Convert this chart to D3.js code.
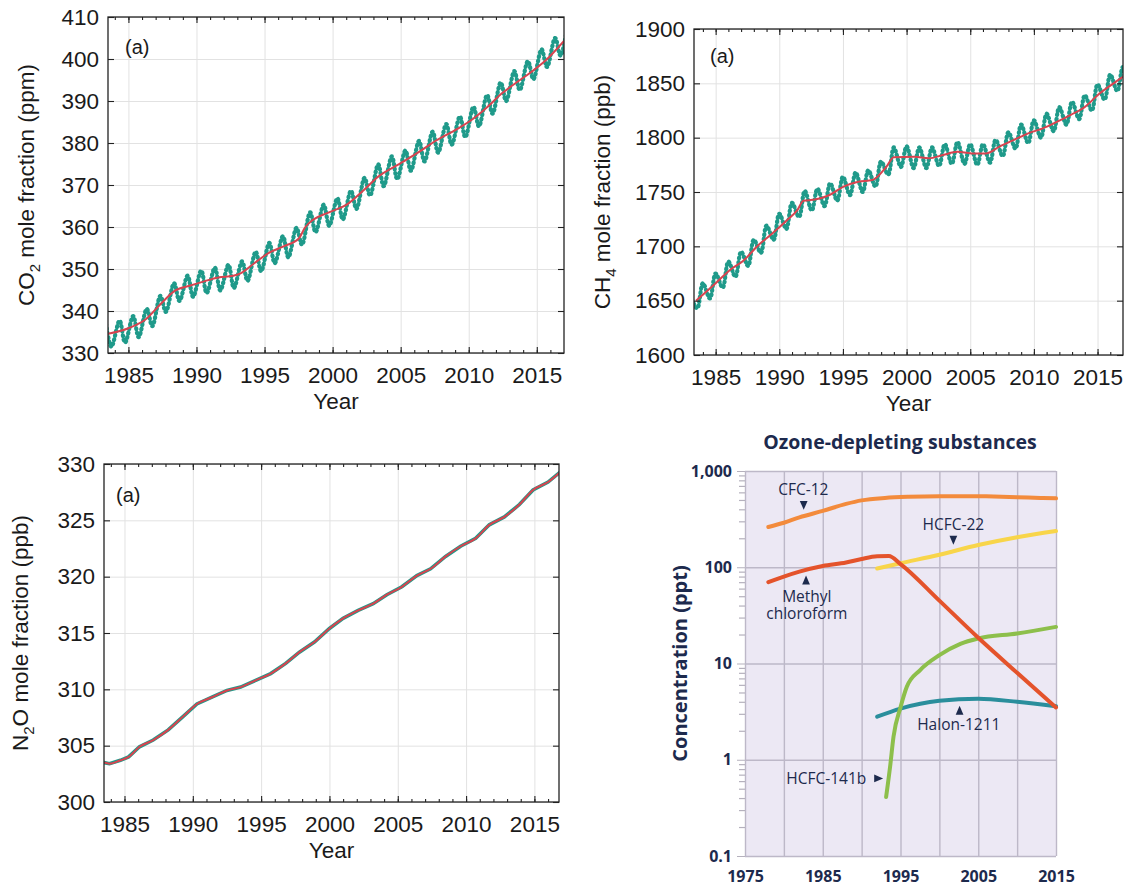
<!DOCTYPE html>
<html>
<head>
<meta charset="utf-8">
<script src="https://cdn.jsdelivr.net/npm/d3@7"></script>
<style>
  body { margin: 0; background: #fff; }
  svg { display: block; }
  .lbl { font-family: "Liberation Sans", Arial, sans-serif; fill: #1a1a1a; }
  .ods { font-family: "Open Sans", sans-serif; fill: #1d2a4d; }
</style>
</head>
<body>
<svg id="chart" width="1132" height="888"></svg>
<script>

// ---- CO2 (ppm) ----
var co2TrendYear  = [1983.5,1985.0,1986.3,1987.35,1988.4,1989.5,1990.5,1991.6,1992.7,1993.2,1994.3,1995.35,1996.4,1997.5,1998.0,1998.55,1999.6,2001.2,2002.3,2003.35,2004.95,2006.55,2007.6,2009.2,2010.3,2011.35,2012.4,2013.5,2014.55,2015.6,2017.0]
var co2TrendValue = [334.6,335.9,338.1,341.6,344.8,346.0,347.0,348.0,348.4,348.9,351.5,353.9,355.4,357.2,360.0,361.7,363.3,365.7,368.8,372.0,375.1,378.3,380.6,383.4,385.7,388.5,391.7,394.4,396.8,399.5,404.3]
var cycleYear     = [1983,1984,1985,1986,1987,1988,1989,1990,1991,1992,1993,1994,1995,1996,1997,1998,1999,2000,2001,2002,2003,2004,2005,2006,2007,2008,2009,2010,2011,2012,2013,2014,2015,2016,2017]
var co2Peak   = [336.9,337.7,338.8,340.5,343.6,346.6,348.4,349.6,350.3,351.0,351.8,354.1,356.2,357.8,359.8,363.5,365.3,366.8,368.6,371.7,374.9,376.8,378.2,380.5,382.7,384.5,386.3,388.6,391.4,394.4,397.1,399.5,402.3,405.0,407.5]
var co2Trough = [331.5,332.5,333.8,336.4,339.8,342.4,343.4,344.3,344.9,345.5,347.2,349.5,351.4,352.8,355.8,358.8,360.3,361.8,364.3,367.5,369.7,371.4,373.4,375.6,377.7,379.6,381.4,384.0,387.0,390.0,392.6,395.2,398.1,400.8,403.5]

// ---- CH4 (ppb) ----
var ch4TrendYear  = [1983.47,1985.0,1986.1,1987.2,1988.35,1989.47,1990.6,1991.4,1991.9,1992.8,1993.9,1995.05,1996.2,1997.3,1998.4,1999.0,2000.6,2001.75,2002.86,2004.0,2005.1,2006.2,2007.33,2008.44,2009.56,2010.7,2011.8,2012.9,2014.03,2015.14,2016.26,2017.0]
var ch4TrendValue = [1650,1666,1678,1687,1701,1712,1724,1733,1742,1743,1747,1755,1759.5,1761,1773,1782,1782.5,1781,1784,1787,1785.5,1785.5,1792,1798,1804,1808.5,1814.5,1821,1828.5,1840.5,1850,1856]
var ch4Peak   = [1655,1666,1675,1686,1695,1706,1719,1730,1740,1751,1753,1758,1764,1768,1770,1778,1791,1792,1791,1791,1794,1796,1794,1794,1798,1805,1812,1816,1822,1828,1833,1839,1849,1858,1865]
var ch4Trough = [1643,1652,1662,1672,1682,1694,1706,1716,1727,1733,1737,1742,1747,1750,1755,1766,1773,1772,1772,1774,1776,1776,1775,1777,1783,1790,1795,1800,1806,1812,1817,1825,1835,1843,1850]

// ---- N2O (ppb) ----
var n2oYear  = [1983.5,1983.9,1984.7,1985.3,1986.1,1987.1,1988.2,1989.3,1990.3,1991.4,1992.5,1993.5,1994.6,1995.7,1996.8,1997.8,1998.9,2000.0,2001.0,2002.1,2003.2,2004.2,2005.3,2006.4,2007.4,2008.5,2009.6,2010.7,2011.7,2012.8,2013.9,2014.9,2016.0,2016.9]
var n2oValue = [303.5,303.4,303.7,304.0,304.9,305.5,306.4,307.6,308.7,309.3,309.9,310.2,310.8,311.4,312.3,313.3,314.2,315.4,316.3,317.0,317.6,318.4,319.1,320.1,320.7,321.8,322.7,323.4,324.6,325.3,326.4,327.7,328.4,329.3]

// ---- Ozone-depleting substances (ppt) ----
var cfc12Year  = [1978,1980,1982,1985,1988,1990,1993,1996,2000,2003,2006,2010,2013,2015]
var cfc12Value = [262,290,330,385,455,495,525,540,548,548,545,535,525,520]
var mcfYear    = [1978,1980,1982,1985,1988,1990,1992,1993.5,1995,2000,2005,2010,2015]
var mcfValue   = [70,80,90,103,112,122,130,131,108,45,18.5,8,3.5]
var hcfc22Year  = [1992,1995,2000,2005,2010,2015]
var hcfc22Value = [97,110,135,170,205,238]
var hcfc141bYear  = [1993.15,1993.7,1994.1,1995.0,1995.8,1997.5,2000,2002.7,2005,2010,2015]
var hcfc141bValue = [0.41,0.9,1.73,3.5,5.7,8.5,12.2,16,18.2,20.5,24]
var halonYear  = [1992,1995,2000,2005,2010,2015]
var halonValue = [2.8,3.4,4.1,4.3,4.0,3.6]

var majorYears = [1985,1990,1995,2000,2005,2010,2015]
var minorYears = [1984,1985,1986,1987,1988,1989,1990,1991,1992,1993,1994,1995,1996,1997,1998,1999,2000,2001,2002,2003,2004,2005,2006,2007,2008,2009,2010,2011,2012,2013,2014,2015,2016]

var tealColor = '#1f9a8a'
var redColor = '#d8434f'

var svg = d3.select("#chart");

function zip(xs, ys) { return xs.map(function(x, i) { return {x: x, y: ys[i]}; }); }

function cycle(years, peaks, troughs, pOff, tOff) {
  var pts = [];
  years.forEach(function(yr, i) {
    pts.push({x: yr + pOff, y: peaks[i]});
    pts.push({x: yr + tOff, y: troughs[i]});
  });
  return pts.sort(function(a, b) { return a.x - b.x; });
}

function drawPanel(cfg) {
  var x = d3.scaleLinear().domain(cfg.xDomain).range([cfg.left, cfg.right]);
  var y = d3.scaleLinear().domain(cfg.yDomain).range([cfg.bottom, cfg.top]);
  var h = cfg.bottom - cfg.top, w = cfg.right - cfg.left;
  var g = svg.append("g");

  // grid
  g.append("g").attr("transform", "translate(0," + cfg.bottom + ")")
    .call(d3.axisBottom(x).tickValues(majorYears).tickSize(-h).tickFormat(""))
    .call(function(s) { s.select(".domain").remove(); s.selectAll("line").attr("stroke", "#e2e2e2"); });
  g.append("g").attr("transform", "translate(" + cfg.left + ",0)")
    .call(d3.axisLeft(y).tickValues(cfg.yTicks).tickSize(-w).tickFormat(""))
    .call(function(s) { s.select(".domain").remove(); s.selectAll("line").attr("stroke", "#e2e2e2"); });

  var clipId = "clip" + cfg.id;
  svg.append("clipPath").attr("id", clipId).append("rect")
    .attr("x", cfg.left).attr("y", cfg.top).attr("width", w).attr("height", h);

  var line = d3.line().x(function(d) { return x(d.x); }).y(function(d) { return y(d.y); });

  var plot = g.append("g").attr("clip-path", "url(#" + clipId + ")");
  plot.append("path").datum(cfg.obs)
    .attr("d", line.curve(cfg.obsCurve))
    .attr("fill", "none").attr("stroke", tealColor)
    .attr("stroke-width", cfg.obsWidth)
    .attr("stroke-dasharray", cfg.obsDash)
    .attr("stroke-linecap", "round");
  plot.append("path").datum(cfg.trend)
    .attr("d", line.curve(d3.curveMonotoneX))
    .attr("fill", "none").attr("stroke", redColor)
    .attr("stroke-width", 2);

  // ticks
  function tickStyle(s) { s.select(".domain").remove(); s.selectAll("line").attr("stroke", "#222").attr("stroke-width", 1.1); }
  g.append("g").attr("transform", "translate(0," + cfg.bottom + ")")
    .call(d3.axisBottom(x).tickValues(minorYears).tickSize(-3).tickFormat("")).call(tickStyle);
  g.append("g").attr("transform", "translate(0," + cfg.top + ")")
    .call(d3.axisTop(x).tickValues(minorYears).tickSize(-3).tickFormat("")).call(tickStyle);
  g.append("g").attr("transform", "translate(0," + cfg.top + ")")
    .call(d3.axisTop(x).tickValues(majorYears).tickSize(-6).tickFormat("")).call(tickStyle);
  g.append("g").attr("transform", "translate(" + cfg.right + ",0)")
    .call(d3.axisRight(y).tickValues(cfg.yTicks).tickSize(-6).tickFormat("")).call(tickStyle);

  g.append("g").attr("transform", "translate(0," + cfg.bottom + ")")
    .call(d3.axisBottom(x).tickValues(majorYears).tickSize(-6).tickPadding(14).tickFormat(d3.format("d")))
    .call(tickStyle);
  g.append("g").attr("transform", "translate(" + cfg.left + ",0)")
    .call(d3.axisLeft(y).tickValues(cfg.yTicks).tickSize(-6).tickPadding(9).tickFormat(d3.format("d")))
    .call(tickStyle);
  g.selectAll(".tick text").attr("class", "lbl").style("font-size", "22.5px").attr("fill", "#1a1a1a");

  g.append("rect").attr("x", cfg.left).attr("y", cfg.top).attr("width", w).attr("height", h)
    .attr("fill", "none").attr("stroke", "#222").attr("stroke-width", 1.3);

  g.append("text").attr("class", "lbl").attr("x", cfg.left + cfg.tagDx).attr("y", cfg.top + cfg.tagDy)
    .style("font-size", "20px").text("(a)");

  g.append("text").attr("class", "lbl").attr("x", (cfg.left + cfg.right) / 2).attr("y", cfg.bottom + 56)
    .attr("text-anchor", "middle").style("font-size", "22.5px").text("Year");

  var yt = g.append("text").attr("class", "lbl")
    .attr("transform", "translate(" + cfg.titleX + "," + ((cfg.top + cfg.bottom) / 2) + ") rotate(-90)")
    .attr("text-anchor", "middle").style("font-size", "22.5px");
  yt.append("tspan").text(cfg.title[0]);
  yt.append("tspan").attr("dy", 6).style("font-size", "15px").text(cfg.title[1]);
  yt.append("tspan").attr("dy", -6).text(cfg.title[2]);
}

drawPanel({
  id: 1, left: 108, right: 564, top: 17, bottom: 353,
  xDomain: [1983.5, 2017.0], yDomain: [330, 410], yTicks: [330,340,350,360,370,380,390,400,410],
  obs: cycle(cycleYear, co2Peak, co2Trough, 0.35, 0.75), obsCurve: d3.curveCatmullRom,
  obsWidth: 4.2, obsDash: "0.8,3.6",
  trend: zip(co2TrendYear, co2TrendValue),
  tagDx: 17, tagDy: 37, titleX: 34, title: ["CO", "2", " mole fraction (ppm)"]
});

drawPanel({
  id: 2, left: 694, right: 1123, top: 29, bottom: 355,
  xDomain: [1983.3, 2017.0], yDomain: [1600, 1900], yTicks: [1600,1650,1700,1750,1800,1850,1900],
  obs: cycle(cycleYear, ch4Peak, ch4Trough, 0.0, 0.55), obsCurve: d3.curveCatmullRom,
  obsWidth: 4.2, obsDash: "0.8,3.6",
  trend: zip(ch4TrendYear, ch4TrendValue),
  tagDx: 16, tagDy: 34, titleX: 610, title: ["CH", "4", " mole fraction (ppb)"]
});

drawPanel({
  id: 3, left: 104, right: 559, top: 464, bottom: 802,
  xDomain: [1983.5, 2016.8], yDomain: [300, 330], yTicks: [300,305,310,315,320,325,330],
  obs: zip(n2oYear, n2oValue), obsCurve: d3.curveLinear,
  obsWidth: 3.6, obsDash: null,
  trend: zip(n2oYear, n2oValue),
  tagDx: 12, tagDy: 38, titleX: 28, title: ["N", "2", "O mole fraction (ppb)"]
});

// ---- Ozone-depleting substances panel ----
(function() {
  var L = 745, R = 1056, T = 471, B = 856;
  var x = d3.scaleLinear().domain([1975, 2015]).range([L, R]);
  var y = d3.scaleLog().domain([0.1, 1000]).range([B, T]);
  var g = svg.append("g");

  g.append("rect").attr("x", L).attr("y", T).attr("width", R - L).attr("height", B - T).attr("fill", "#ece8f4");

  var gridYears = [1975,1980,1985,1990,1995,2000,2005,2010,2015];
  g.append("g").attr("transform", "translate(0," + B + ")")
    .call(d3.axisBottom(x).tickValues(gridYears).tickSize(-(B - T)).tickFormat(""))
    .call(function(s) { s.select(".domain").remove(); s.selectAll("line").attr("stroke", "#bdb8c8").attr("stroke-width", 1.4); });

  var decades = [0.1, 1, 10, 100, 1000];
  g.append("g").attr("transform", "translate(" + L + ",0)")
    .call(d3.axisLeft(y).tickValues(decades).tickSize(-(R - L)).tickFormat(""))
    .call(function(s) { s.select(".domain").remove(); s.selectAll("line").attr("stroke", "#bdb8c8").attr("stroke-width", 1.4); });

  var minor = [];
  [0.1, 1, 10, 100].forEach(function(d) { [2,3,4,5,6,7,8,9].forEach(function(m) { minor.push(d * m); }); });
  g.append("g").attr("transform", "translate(" + L + ",0)")
    .call(d3.axisLeft(y).tickValues(minor).tickSize(6).tickFormat(""))
    .call(function(s) { s.select(".domain").remove(); s.selectAll("line").attr("stroke", "#b5b1bd").attr("stroke-width", 1.2); });
  var yAx = g.append("g").attr("transform", "translate(" + L + ",0)")
    .call(d3.axisLeft(y).tickValues(decades).tickSize(8).tickPadding(5)
      .tickFormat(function(d) { return d < 1 ? "0.1" : d3.format(",")(d); }))
    .call(function(s) { s.select(".domain").remove(); s.selectAll("line").attr("stroke", "#b5b1bd"); });
  var xAx = g.append("g").attr("transform", "translate(0," + B + ")")
    .call(d3.axisBottom(x).tickValues([1975,1985,1995,2005,2015]).tickSize(0).tickPadding(15).tickFormat(d3.format("d")))
    .call(function(s) { s.select(".domain").remove(); });
  [yAx, xAx].forEach(function(a) {
    a.attr("font-size", null).attr("font-family", null);
    a.selectAll("text").attr("class", "ods").attr("fill", "#1d2a4d")
      .attr("font-size", "16px").attr("font-weight", "bold")
      .style("font-size", "16px").style("font-weight", "bold");
  });

  var series = [
    {name: "CFC-12", color: "#f38b3c", data: zip(cfc12Year, cfc12Value)},
    {name: "HCFC-22", color: "#f8d54a", data: zip(hcfc22Year, hcfc22Value)},
    {name: "Halon-1211", color: "#2a8e9c", data: zip(halonYear, halonValue)},
    {name: "HCFC-141b", color: "#8dbf4b", data: zip(hcfc141bYear, hcfc141bValue)},
    {name: "Methyl chloroform", color: "#e4532b", data: zip(mcfYear, mcfValue)}
  ];
  var line = d3.line().curve(d3.curveMonotoneX).x(function(d) { return x(d.x); }).y(function(d) { return y(d.y); });
  g.selectAll(".ods-line").data(series).enter().append("path")
    .attr("class", "ods-line")
    .attr("d", function(d) { return line(d.data); })
    .attr("fill", "none").attr("stroke", function(d) { return d.color; })
    .attr("stroke-width", 4).attr("stroke-linecap", "round");

  // annotations placed in data units
  var notes = [
    {lines: ["CFC-12"], x: 1982.5, v: 560, anchor: "middle", arrow: [1982.55, 455, 180]},
    {lines: ["HCFC-22"], x: 2001.8, v: 246, anchor: "middle", arrow: [2001.8, 198, 180]},
    {lines: ["Methyl", "chloroform"], x: 1982.95, v: 44, anchor: "middle", arrow: [1982.85, 71, 0]},
    {lines: ["Halon-1211"], x: 2002.5, v: 2.02, anchor: "middle", arrow: [2002.6, 3.15, 0]},
    {lines: ["HCFC-141b"], x: 1990.6, v: 0.556, anchor: "end", arrow: [1992.0, 0.64, 90]}
  ];
  notes.forEach(function(n) {
    n.lines.forEach(function(s, i) {
      g.append("text").attr("class", "ods").attr("text-anchor", n.anchor)
        .attr("x", x(n.x)).attr("y", y(n.v) + i * 17).style("font-size", "15.5px").text(s);
    });
    g.append("path").attr("d", d3.symbol(d3.symbolTriangle).size(32)())
      .attr("transform", "translate(" + x(n.arrow[0]) + "," + y(n.arrow[1]) + ") rotate(" + n.arrow[2] + ") scale(0.9,1.2)")
      .attr("fill", "#1d2a4d");
  });

  g.append("text").attr("class", "ods").attr("x", 900).attr("y", 449)
    .attr("text-anchor", "middle").style("font-size", "19.5px").style("font-weight", "bold")
    .text("Ozone-depleting substances");
  g.append("text").attr("class", "ods")
    .attr("transform", "translate(687," + ((T + B) / 2) + ") rotate(-90)")
    .attr("text-anchor", "middle").style("font-size", "20px").style("font-weight", "bold")
    .text("Concentration (ppt)");
})();
</script>
</body>
</html>
